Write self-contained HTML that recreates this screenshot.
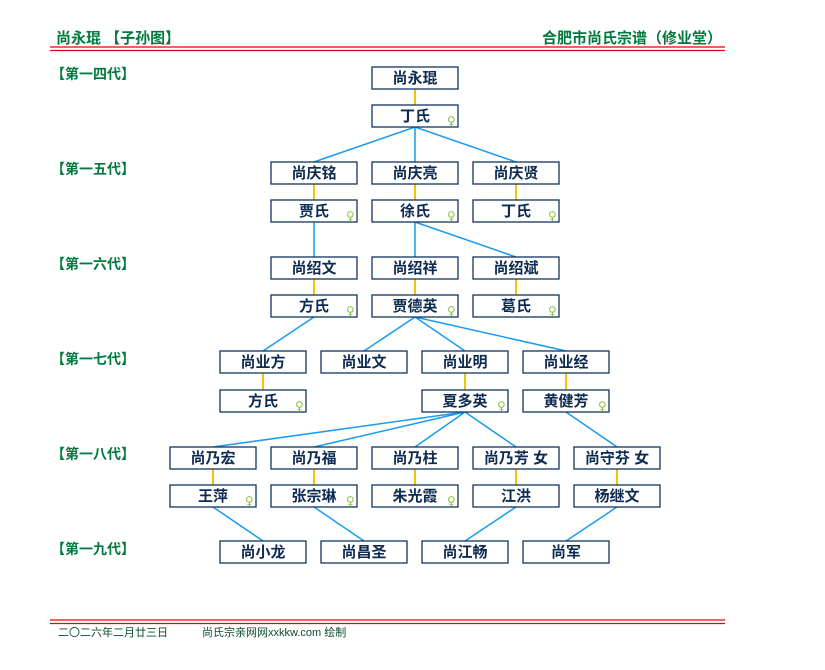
<!DOCTYPE html>
<html><head><meta charset="utf-8"><style>
body{margin:0;background:#fff;}
svg{display:block;font-family:"Liberation Sans","Noto Sans CJK SC",sans-serif;}
.b{fill:#fff;stroke:#12345e;stroke-width:1.3}
.t{font-size:15px;font-weight:bold;fill:#0d2a50;text-anchor:middle}
.g{font-size:14px;font-weight:bold;fill:#007a3d}
.f{font-size:12px;fill:#8bc34a;font-family:"DejaVu Sans",sans-serif}
.c{stroke:#1a9bf0;stroke-width:1.5;fill:none}
.y{stroke:#f5c400;stroke-width:2}
</style></head><body>
<svg width="825" height="670" viewBox="0 0 825 670">
<text x="56" y="43" class="g" style="font-size:15px">尚永琨 【子孙图】</text>
<text x="722" y="43" class="g" style="font-size:15px" text-anchor="end">合肥市尚氏宗谱（修业堂）</text>
<line x1="50" y1="47" x2="725" y2="47" stroke="#e00" stroke-width="1.2"/>
<line x1="50" y1="50.5" x2="725" y2="50.5" stroke="#e00" stroke-width="1.2"/>
<line x1="50" y1="620" x2="725" y2="620" stroke="#e00" stroke-width="1.2"/>
<line x1="50" y1="623.5" x2="725" y2="623.5" stroke="#e00" stroke-width="1.2"/>
<text x="58" y="636" style="font-size:11px;fill:#0a4a2a">二〇二六年二月廿三日</text>
<text x="202" y="636" style="font-size:11px;fill:#0a4a2a">尚氏宗亲网网xxkkw.com 绘制</text>

<g class="g">
<text x="51" y="79">【第一四代】</text>
<text x="51" y="174">【第一五代】</text>
<text x="51" y="269">【第一六代】</text>
<text x="51" y="364">【第一七代】</text>
<text x="51" y="459">【第一八代】</text>
<text x="51" y="554">【第一九代】</text>
</g>

<g class="y">
<line x1="415" y1="89" x2="415" y2="105"/>
<line x1="314" y1="184" x2="314" y2="200"/><line x1="415" y1="184" x2="415" y2="200"/><line x1="516" y1="184" x2="516" y2="200"/>
<line x1="314" y1="279" x2="314" y2="295"/><line x1="415" y1="279" x2="415" y2="295"/><line x1="516" y1="279" x2="516" y2="295"/>
<line x1="263" y1="373" x2="263" y2="390"/><line x1="465" y1="373" x2="465" y2="390"/><line x1="566" y1="373" x2="566" y2="390"/>
<line x1="213" y1="469" x2="213" y2="485"/><line x1="314" y1="469" x2="314" y2="485"/><line x1="415" y1="469" x2="415" y2="485"/><line x1="516" y1="469" x2="516" y2="485"/><line x1="617" y1="469" x2="617" y2="485"/>
</g>
<g class="c">
<path d="M415 127L314 162M415 127L415 162M415 127L516 162"/>
<path d="M314 222L314 257M415 222L415 257M415 222L516 257"/>
<path d="M314 317L263 351M415 317L364 351M415 317L465 351M415 317L566 351"/>
<path d="M465 412L213 447M465 412L314 447M465 412L415 447M465 412L516 447M566 412L617 447"/>
<path d="M213 507L263 541M314 507L364 541M516 507L465 541M617 507L566 541"/>
</g>

<g>
<rect class="b" x="372" y="67" width="86" height="22"/><text class="t" x="415" y="83">尚永琨</text>
<rect class="b" x="372" y="105" width="86" height="22"/><text class="t" x="415" y="121">丁氏</text><text class="f" x="447" y="125">♀</text>

<rect class="b" x="271" y="162" width="86" height="22"/><text class="t" x="314" y="178">尚庆铭</text>
<rect class="b" x="372" y="162" width="86" height="22"/><text class="t" x="415" y="178">尚庆亮</text>
<rect class="b" x="473" y="162" width="86" height="22"/><text class="t" x="516" y="178">尚庆贤</text>
<rect class="b" x="271" y="200" width="86" height="22"/><text class="t" x="314" y="216">贾氏</text><text class="f" x="346" y="220">♀</text>
<rect class="b" x="372" y="200" width="86" height="22"/><text class="t" x="415" y="216">徐氏</text><text class="f" x="447" y="220">♀</text>
<rect class="b" x="473" y="200" width="86" height="22"/><text class="t" x="516" y="216">丁氏</text><text class="f" x="548" y="220">♀</text>

<rect class="b" x="271" y="257" width="86" height="22"/><text class="t" x="314" y="273">尚绍文</text>
<rect class="b" x="372" y="257" width="86" height="22"/><text class="t" x="415" y="273">尚绍祥</text>
<rect class="b" x="473" y="257" width="86" height="22"/><text class="t" x="516" y="273">尚绍斌</text>
<rect class="b" x="271" y="295" width="86" height="22"/><text class="t" x="314" y="311">方氏</text><text class="f" x="346" y="315">♀</text>
<rect class="b" x="372" y="295" width="86" height="22"/><text class="t" x="415" y="311">贾德英</text><text class="f" x="447" y="315">♀</text>
<rect class="b" x="473" y="295" width="86" height="22"/><text class="t" x="516" y="311">葛氏</text><text class="f" x="548" y="315">♀</text>

<rect class="b" x="220" y="351" width="86" height="22"/><text class="t" x="263" y="367">尚业方</text>
<rect class="b" x="321" y="351" width="86" height="22"/><text class="t" x="364" y="367">尚业文</text>
<rect class="b" x="422" y="351" width="86" height="22"/><text class="t" x="465" y="367">尚业明</text>
<rect class="b" x="523" y="351" width="86" height="22"/><text class="t" x="566" y="367">尚业经</text>
<rect class="b" x="220" y="390" width="86" height="22"/><text class="t" x="263" y="406">方氏</text><text class="f" x="295" y="410">♀</text>
<rect class="b" x="422" y="390" width="86" height="22"/><text class="t" x="465" y="406">夏多英</text><text class="f" x="497" y="410">♀</text>
<rect class="b" x="523" y="390" width="86" height="22"/><text class="t" x="566" y="406">黄健芳</text><text class="f" x="598" y="410">♀</text>

<rect class="b" x="170" y="447" width="86" height="22"/><text class="t" x="213" y="463">尚乃宏</text>
<rect class="b" x="271" y="447" width="86" height="22"/><text class="t" x="314" y="463">尚乃福</text>
<rect class="b" x="372" y="447" width="86" height="22"/><text class="t" x="415" y="463">尚乃柱</text>
<rect class="b" x="473" y="447" width="86" height="22"/><text class="t" x="516" y="463">尚乃芳 女</text>
<rect class="b" x="574" y="447" width="86" height="22"/><text class="t" x="617" y="463">尚守芬 女</text>
<rect class="b" x="170" y="485" width="86" height="22"/><text class="t" x="213" y="501">王萍</text><text class="f" x="245" y="505">♀</text>
<rect class="b" x="271" y="485" width="86" height="22"/><text class="t" x="314" y="501">张宗琳</text><text class="f" x="346" y="505">♀</text>
<rect class="b" x="372" y="485" width="86" height="22"/><text class="t" x="415" y="501">朱光霞</text><text class="f" x="447" y="505">♀</text>
<rect class="b" x="473" y="485" width="86" height="22"/><text class="t" x="516" y="501">江洪</text>
<rect class="b" x="574" y="485" width="86" height="22"/><text class="t" x="617" y="501">杨继文</text>

<rect class="b" x="220" y="541" width="86" height="22"/><text class="t" x="263" y="557">尚小龙</text>
<rect class="b" x="321" y="541" width="86" height="22"/><text class="t" x="364" y="557">尚昌圣</text>
<rect class="b" x="422" y="541" width="86" height="22"/><text class="t" x="465" y="557">尚江畅</text>
<rect class="b" x="523" y="541" width="86" height="22"/><text class="t" x="566" y="557">尚军</text>
</g>
</svg>
</body></html>
